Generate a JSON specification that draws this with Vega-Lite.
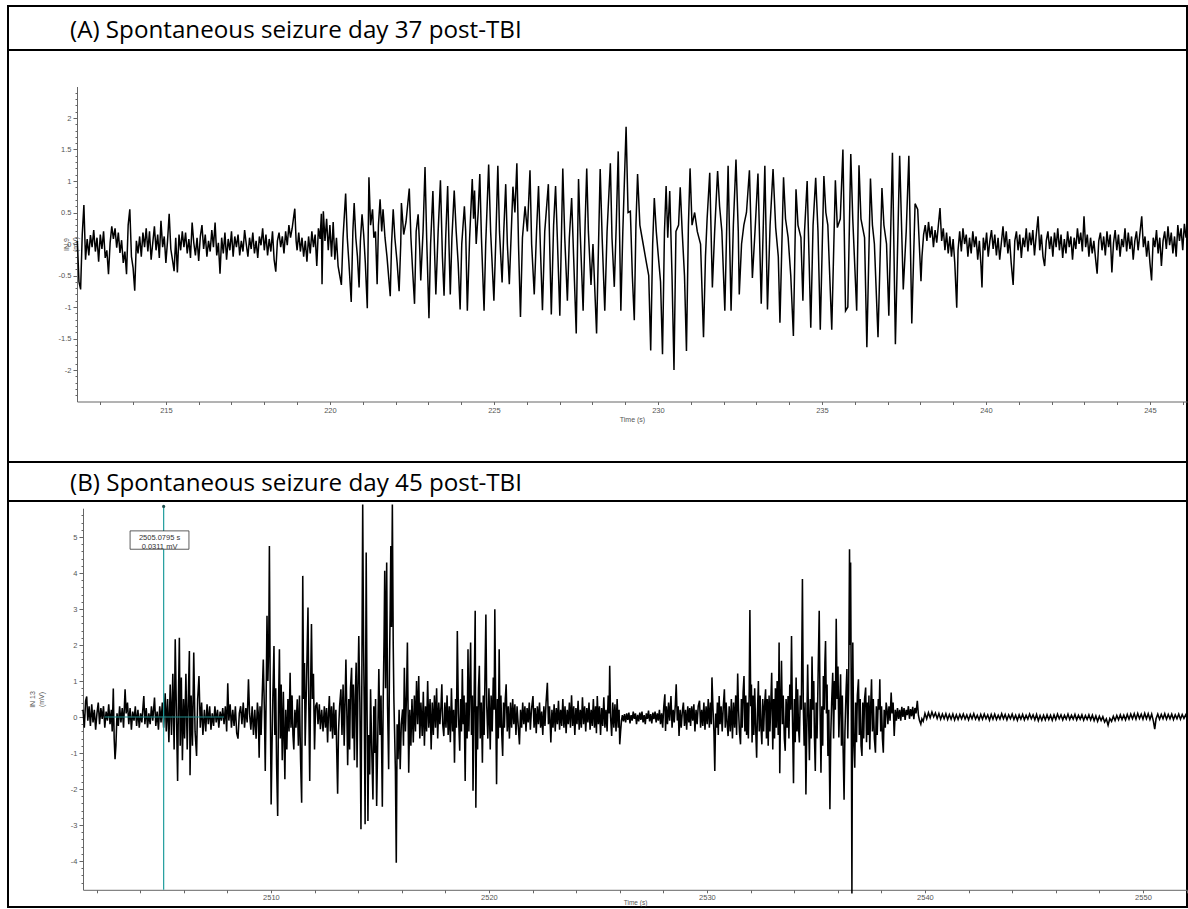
{
"$schema": "https://vega.github.io/schema/vega-lite/v6.json",
"background": "white",
"padding": {"left": 7, "top": 5, "right": 0, "bottom": 0},
"spacing": 0,
"bounds": "flush",
"config": {
 "view": {"stroke": "#000", "strokeWidth": 2},
 "axis": {"labelFont": "Liberation Sans", "titleFont": "Liberation Sans", "labelFontSize": 7.5, "titleFontSize": 7, "labelColor": "#555", "titleColor": "#555", "domainColor": "#666", "tickColor": "#666", "grid": false, "titleFontWeight": "normal", "labelOverlap": false, "labelFlush": false}
},
"datasets": {
"a": [
{"t":212.30,"v":0.05},{"t":212.35,"v":-0.60},{"t":212.40,"v":-0.72},{"t":212.45,"v":0.15},{"t":212.50,"v":0.62},{"t":212.55,"v":-0.25},{"t":212.60,"v":0.08},{"t":212.65,"v":-0.18},{"t":212.70,"v":0.14},{"t":212.75,"v":-0.05},{"t":212.80,"v":0.22},{"t":212.85,"v":-0.12},{"t":212.90,"v":0.10},{"t":212.95,"v":-0.28},{"t":213.00,"v":0.15},{"t":213.05,"v":-0.08},{"t":213.10,"v":0.20},{"t":213.15,"v":-0.22},{"t":213.20,"v":-0.10},{"t":213.25,"v":-0.48},{"t":213.30,"v":0.02},{"t":213.35,"v":0.28},{"t":213.40,"v":0.08},{"t":213.45,"v":0.25},{"t":213.50,"v":-0.06},{"t":213.55,"v":0.18},{"t":213.60,"v":-0.14},{"t":213.65,"v":0.06},{"t":213.70,"v":-0.30},{"t":213.75,"v":-0.12},{"t":213.80,"v":-0.48},{"t":213.85,"v":0.30},{"t":213.90,"v":0.55},{"t":213.95,"v":-0.20},{"t":214.00,"v":-0.38},{"t":214.05,"v":-0.74},{"t":214.10,"v":0.05},{"t":214.15,"v":-0.15},{"t":214.20,"v":0.12},{"t":214.25,"v":-0.20},{"t":214.30,"v":0.18},{"t":214.35,"v":-0.05},{"t":214.40,"v":0.25},{"t":214.45,"v":-0.12},{"t":214.50,"v":0.20},{"t":214.55,"v":-0.25},{"t":214.60,"v":0.02},{"t":214.65,"v":0.28},{"t":214.70,"v":-0.10},{"t":214.75,"v":0.15},{"t":214.80,"v":-0.22},{"t":214.85,"v":0.37},{"t":214.90,"v":-0.05},{"t":214.95,"v":0.12},{"t":215.00,"v":-0.30},{"t":215.05,"v":0.05},{"t":215.10,"v":0.48},{"t":215.15,"v":-0.08},{"t":215.20,"v":-0.25},{"t":215.25,"v":-0.43},{"t":215.30,"v":0.10},{"t":215.35,"v":-0.45},{"t":215.40,"v":0.15},{"t":215.45,"v":-0.10},{"t":215.50,"v":0.20},{"t":215.55,"v":-0.05},{"t":215.60,"v":0.18},{"t":215.65,"v":-0.15},{"t":215.70,"v":0.08},{"t":215.75,"v":-0.22},{"t":215.80,"v":0.34},{"t":215.85,"v":0.02},{"t":215.90,"v":-0.18},{"t":215.95,"v":0.10},{"t":216.00,"v":-0.27},{"t":216.05,"v":0.12},{"t":216.10,"v":0.30},{"t":216.15,"v":-0.08},{"t":216.20,"v":0.15},{"t":216.25,"v":-0.20},{"t":216.30,"v":0.05},{"t":216.35,"v":-0.12},{"t":216.40,"v":0.22},{"t":216.45,"v":-0.05},{"t":216.50,"v":0.34},{"t":216.55,"v":-0.18},{"t":216.60,"v":0.02},{"t":216.65,"v":-0.47},{"t":216.70,"v":0.10},{"t":216.75,"v":-0.15},{"t":216.80,"v":0.18},{"t":216.85,"v":-0.25},{"t":216.90,"v":0.08},{"t":216.95,"v":-0.10},{"t":217.00,"v":0.20},{"t":217.05,"v":-0.20},{"t":217.10,"v":0.12},{"t":217.15,"v":-0.05},{"t":217.20,"v":0.15},{"t":217.25,"v":-0.18},{"t":217.30,"v":0.05},{"t":217.35,"v":-0.12},{"t":217.40,"v":0.22},{"t":217.45,"v":0.00},{"t":217.50,"v":-0.20},{"t":217.55,"v":0.10},{"t":217.60,"v":-0.08},{"t":217.65,"v":0.18},{"t":217.70,"v":-0.15},{"t":217.75,"v":0.05},{"t":217.80,"v":-0.22},{"t":217.85,"v":0.12},{"t":217.90,"v":-0.02},{"t":217.95,"v":0.25},{"t":218.00,"v":-0.10},{"t":218.05,"v":0.15},{"t":218.10,"v":-0.18},{"t":218.15,"v":0.08},{"t":218.20,"v":-0.12},{"t":218.25,"v":0.20},{"t":218.30,"v":-0.25},{"t":218.35,"v":-0.44},{"t":218.40,"v":0.05},{"t":218.45,"v":0.18},{"t":218.50,"v":-0.05},{"t":218.55,"v":0.12},{"t":218.60,"v":-0.15},{"t":218.65,"v":0.20},{"t":218.70,"v":-0.02},{"t":218.75,"v":0.30},{"t":218.80,"v":0.10},{"t":218.85,"v":0.25},{"t":218.90,"v":0.45},{"t":218.93,"v":0.56},{"t":218.97,"v":0.05},{"t":219.00,"v":-0.10},{"t":219.05,"v":0.18},{"t":219.10,"v":-0.12},{"t":219.15,"v":0.10},{"t":219.20,"v":-0.20},{"t":219.25,"v":0.05},{"t":219.30,"v":-0.28},{"t":219.35,"v":0.12},{"t":219.40,"v":-0.15},{"t":219.45,"v":0.20},{"t":219.50,"v":-0.05},{"t":219.55,"v":0.15},{"t":219.60,"v":-0.35},{"t":219.65,"v":0.25},{"t":219.70,"v":0.08},{"t":219.74,"v":0.48},{"t":219.76,"v":-0.64},{"t":219.80,"v":0.52},{"t":219.85,"v":0.05},{"t":219.90,"v":0.40},{"t":219.95,"v":-0.10},{"t":220.00,"v":0.30},{"t":220.05,"v":-0.20},{"t":220.10,"v":0.35},{"t":220.15,"v":-0.25},{"t":220.20,"v":0.10},{"t":220.25,"v":-0.35},{"t":220.30,"v":-0.50},{"t":220.35,"v":-0.65},{"t":220.40,"v":0.10},
{"t":220.48,"v":0.80},{"t":220.53,"v":0.10},{"t":220.58,"v":-0.30},{"t":220.65,"v":-0.92},{"t":220.70,"v":0.20},{"t":220.74,"v":0.65},{"t":220.79,"v":0.10},{"t":220.84,"v":-0.20},{"t":220.89,"v":-0.69},{"t":220.93,"v":0.05},{"t":220.98,"v":0.47},{"t":221.03,"v":0.15},{"t":221.08,"v":-0.30},{"t":221.14,"v":-1.02},{"t":221.19,"v":1.06},{"t":221.24,"v":0.30},{"t":221.30,"v":0.55},{"t":221.34,"v":0.10},{"t":221.39,"v":0.20},{"t":221.44,"v":-0.64},{"t":221.48,"v":0.30},{"t":221.53,"v":0.71},{"t":221.58,"v":0.20},{"t":221.62,"v":0.55},{"t":221.68,"v":0.10},{"t":221.74,"v":-0.20},{"t":221.84,"v":-0.83},{"t":221.88,"v":0.00},{"t":221.93,"v":0.55},{"t":221.98,"v":0.10},{"t":222.05,"v":-0.30},{"t":222.11,"v":-0.75},{"t":222.16,"v":0.00},{"t":222.18,"v":0.65},{"t":222.25,"v":0.15},{"t":222.32,"v":0.35},{"t":222.42,"v":0.88},{"t":222.47,"v":0.10},{"t":222.52,"v":-0.40},{"t":222.58,"v":-0.95},{"t":222.63,"v":0.20},{"t":222.69,"v":0.47},{"t":222.74,"v":-0.10},{"t":222.77,"v":-0.58},{"t":222.84,"v":0.20},{"t":222.90,"v":1.22},{"t":222.95,"v":0.10},{"t":223.02,"v":-1.18},{"t":223.07,"v":0.00},{"t":223.14,"v":0.84},{"t":223.19,"v":-0.10},{"t":223.23,"v":-0.80},{"t":223.30,"v":0.20},{"t":223.37,"v":1.01},{"t":223.43,"v":-0.20},{"t":223.48,"v":-0.82},{"t":223.53,"v":0.10},{"t":223.59,"v":0.92},{"t":223.63,"v":0.00},{"t":223.67,"v":-0.80},{"t":223.72,"v":0.10},{"t":223.79,"v":0.85},{"t":223.85,"v":0.20},{"t":223.91,"v":-0.30},{"t":223.97,"v":-1.04},{"t":224.02,"v":0.00},{"t":224.10,"v":0.60},{"t":224.14,"v":0.20},{"t":224.19,"v":-1.06},{"t":224.26,"v":0.10},{"t":224.34,"v":1.03},{"t":224.38,"v":0.40},{"t":224.41,"v":0.85},{"t":224.46,"v":0.00},{"t":224.52,"v":0.50},{"t":224.57,"v":1.11},{"t":224.62,"v":0.10},{"t":224.70,"v":-1.06},{"t":224.75,"v":0.00},{"t":224.84,"v":1.26},{"t":224.90,"v":0.20},{"t":225.00,"v":-0.90},{"t":225.06,"v":0.10},{"t":225.12,"v":1.24},{"t":225.17,"v":0.20},{"t":225.25,"v":-0.61},{"t":225.30,"v":0.20},{"t":225.36,"v":0.95},{"t":225.41,"v":0.00},{"t":225.47,"v":-0.64},{"t":225.53,"v":0.20},{"t":225.58,"v":0.91},{"t":225.64,"v":0.50},{"t":225.70,"v":1.28},{"t":225.75,"v":0.00},{"t":225.81,"v":-1.16},{"t":225.87,"v":0.10},{"t":225.95,"v":0.60},{"t":226.02,"v":0.20},{"t":226.10,"v":1.17},{"t":226.15,"v":0.00},{"t":226.23,"v":-0.80},{"t":226.30,"v":0.20},{"t":226.36,"v":0.92},{"t":226.42,"v":-0.10},{"t":226.48,"v":-1.05},{"t":226.55,"v":0.20},{"t":226.66,"v":0.95},{"t":226.70,"v":0.00},{"t":226.75,"v":-1.12},{"t":226.82,"v":0.30},{"t":226.88,"v":0.92},{"t":226.94,"v":0.00},{"t":227.01,"v":-1.14},{"t":227.10,"v":1.20},{"t":227.16,"v":0.10},{"t":227.24,"v":-0.90},{"t":227.30,"v":0.10},{"t":227.37,"v":0.73},{"t":227.43,"v":-0.20},{"t":227.51,"v":-1.42},{"t":227.58,"v":1.03},{"t":227.63,"v":0.20},{"t":227.72,"v":-1.06},{"t":227.78,"v":0.30},{"t":227.83,"v":1.20},{"t":227.88,"v":0.20},{"t":227.96,"v":-0.65},{"t":228.02,"v":0.00},{"t":228.13,"v":-1.42},{"t":228.24,"v":1.19},{"t":228.30,"v":0.10},{"t":228.38,"v":-1.06},{"t":228.45,"v":0.20},{"t":228.55,"v":1.28},{"t":228.60,"v":0.10},{"t":228.67,"v":-0.68},{"t":228.73,"v":0.30},{"t":228.79,"v":1.47},{"t":228.87,"v":-1.06},{"t":228.93,"v":0.20},{"t":229.03,"v":1.86},{"t":229.09,"v":0.50},{"t":229.16,"v":0.52},{"t":229.22,"v":-0.50},{"t":229.28,"v":-1.21},{"t":229.33,"v":0.30},{"t":229.38,"v":1.11},{"t":229.45,"v":0.30},{"t":229.55,"v":0.00},{"t":229.65,"v":-0.30},{"t":229.72,"v":-0.50},{"t":229.78,"v":-1.69},{"t":229.84,"v":0.00},{"t":229.89,"v":0.73},{"t":229.95,"v":0.20},{"t":230.03,"v":-0.30},{"t":230.08,"v":-0.60},{"t":230.14,"v":-1.75},{"t":230.20,"v":0.20},{"t":230.25,"v":0.92},{"t":230.30,"v":0.10},{"t":230.36,"v":0.84},{"t":230.43,"v":-0.50},{"t":230.49,"v":-2.00},{"t":230.55,"v":0.20},{"t":230.63,"v":0.30},{"t":230.68,"v":0.90},{"t":230.74,"v":0.20},{"t":230.81,"v":-0.50},{"t":230.87,"v":-1.70},{"t":230.93,"v":0.30},{"t":230.98,"v":1.20},{"t":231.04,"v":0.30},{"t":231.12,"v":0.50},{"t":231.20,"v":0.20},{"t":231.30,"v":0.00},{"t":231.39,"v":-1.48},{"t":231.45,"v":-0.20},{"t":231.50,"v":0.40},{"t":231.58,"v":1.13},{"t":231.66,"v":-0.69},{"t":231.73,"v":0.20},{"t":231.82,"v":1.16},{"t":231.88,"v":0.60},{"t":231.95,"v":0.20},{"t":232.04,"v":-1.06},{"t":232.14,"v":1.24},{"t":232.23,"v":-1.06},{"t":232.30,"v":0.30},{"t":232.38,"v":1.34},{"t":232.45,"v":0.20},{"t":232.48,"v":-0.80},{"t":232.55,"v":0.00},{"t":232.62,"v":0.30},{"t":232.70,"v":0.50},{"t":232.79,"v":1.17},{"t":232.88,"v":-0.54},{"t":232.96,"v":0.20},{"t":233.05,"v":1.12},{"t":233.15,"v":-0.95},{"t":233.26,"v":1.24},{"t":233.34,"v":-1.04},{"t":233.42,"v":0.30},{"t":233.51,"v":1.19},{"t":233.59,"v":0.26},{"t":233.67,"v":-0.20},{"t":233.72,"v":-1.25},{"t":233.83,"v":1.06},{"t":233.89,"v":0.40},{"t":233.97,"v":0.10},{"t":234.05,"v":-0.50},{"t":234.13,"v":-1.46},{"t":234.21,"v":0.87},{"t":234.27,"v":0.30},{"t":234.36,"v":0.10},{"t":234.42,"v":-0.90},{"t":234.47,"v":0.20},{"t":234.55,"v":1.00},{"t":234.66,"v":-1.33},{"t":234.73,"v":0.30},{"t":234.81,"v":1.05},{"t":234.88,"v":0.20},{"t":234.95,"v":-1.36},{"t":235.06,"v":1.08},{"t":235.12,"v":0.50},{"t":235.18,"v":0.30},{"t":235.30,"v":-1.36},{"t":235.41,"v":1.01},{"t":235.47,"v":0.26},{"t":235.56,"v":0.40},{"t":235.64,"v":1.50},{"t":235.72,"v":-1.06},{"t":235.79,"v":-1.00},{"t":235.88,"v":1.43},{"t":235.94,"v":0.40},{"t":236.06,"v":-1.06},{"t":236.13,"v":1.25},{"t":236.19,"v":0.40},{"t":236.30,"v":0.10},{"t":236.37,"v":-1.64},{"t":236.48,"v":1.04},{"t":236.54,"v":0.30},{"t":236.60,"v":0.00},{"t":236.71,"v":-1.48},{"t":236.83,"v":0.89},{"t":236.89,"v":0.30},{"t":236.97,"v":0.00},{"t":237.04,"v":-1.14},{"t":237.15,"v":1.45},{"t":237.24,"v":-1.59},{"t":237.37,"v":1.40},{"t":237.48,"v":-0.72},{"t":237.57,"v":0.20},{"t":237.65,"v":1.40},{"t":237.74,"v":-1.26},{"t":237.84,"v":0.64},{"t":237.92,"v":0.55},{"t":238.02,"v":-0.59},
{"t":238.05,"v":-0.20},{"t":238.10,"v":0.15},{"t":238.15,"v":0.30},{"t":238.20,"v":0.05},{"t":238.25,"v":0.35},{"t":238.30,"v":0.10},{"t":238.35,"v":0.28},{"t":238.40,"v":-0.05},{"t":238.45,"v":0.22},{"t":238.50,"v":0.02},{"t":238.55,"v":0.30},{"t":238.60,"v":0.57},{"t":238.65,"v":0.05},{"t":238.70,"v":0.25},{"t":238.75,"v":-0.10},{"t":238.80,"v":0.18},{"t":238.85,"v":-0.15},{"t":238.90,"v":0.12},{"t":238.95,"v":-0.20},{"t":239.00,"v":0.08},{"t":239.05,"v":-0.30},{"t":239.11,"v":-1.01},{"t":239.15,"v":-0.10},{"t":239.20,"v":0.20},{"t":239.25,"v":-0.12},{"t":239.30,"v":0.25},{"t":239.35,"v":0.00},{"t":239.40,"v":0.15},{"t":239.45,"v":-0.20},{"t":239.50,"v":0.10},{"t":239.55,"v":-0.15},{"t":239.60,"v":0.20},{"t":239.65,"v":-0.05},{"t":239.70,"v":0.12},{"t":239.75,"v":-0.25},{"t":239.80,"v":0.05},{"t":239.85,"v":-0.35},{"t":239.88,"v":-0.69},{"t":239.92,"v":0.10},{"t":239.97,"v":-0.10},{"t":240.02,"v":0.18},{"t":240.07,"v":-0.20},{"t":240.12,"v":0.05},{"t":240.17,"v":0.22},{"t":240.22,"v":-0.08},{"t":240.27,"v":0.15},{"t":240.32,"v":-0.18},{"t":240.37,"v":0.10},{"t":240.42,"v":-0.25},{"t":240.47,"v":0.02},{"t":240.52,"v":0.28},{"t":240.57,"v":-0.05},{"t":240.62,"v":0.20},{"t":240.67,"v":-0.15},{"t":240.72,"v":0.08},{"t":240.77,"v":-0.30},{"t":240.83,"v":-0.65},{"t":240.88,"v":0.05},{"t":240.93,"v":0.20},{"t":240.98,"v":-0.10},{"t":241.03,"v":0.15},{"t":241.08,"v":-0.22},{"t":241.13,"v":0.10},{"t":241.18,"v":-0.05},{"t":241.23,"v":0.25},{"t":241.28,"v":-0.12},{"t":241.33,"v":0.18},{"t":241.38,"v":-0.02},{"t":241.43,"v":0.22},{"t":241.48,"v":-0.18},{"t":241.53,"v":0.12},{"t":241.59,"v":0.44},{"t":241.64,"v":-0.10},{"t":241.69,"v":0.15},{"t":241.74,"v":-0.20},{"t":241.79,"v":-0.35},{"t":241.84,"v":0.05},{"t":241.89,"v":0.20},{"t":241.94,"v":-0.08},{"t":241.99,"v":0.12},{"t":242.04,"v":-0.20},{"t":242.09,"v":0.18},{"t":242.14,"v":-0.05},{"t":242.19,"v":0.25},{"t":242.24,"v":-0.10},{"t":242.29,"v":0.15},{"t":242.34,"v":-0.22},{"t":242.39,"v":0.08},{"t":242.44,"v":-0.15},{"t":242.49,"v":0.20},{"t":242.54,"v":-0.05},{"t":242.59,"v":0.12},{"t":242.64,"v":-0.25},{"t":242.69,"v":0.10},{"t":242.74,"v":-0.08},{"t":242.79,"v":0.25},{"t":242.84,"v":0.00},{"t":242.89,"v":0.18},{"t":242.94,"v":-0.12},{"t":242.99,"v":0.44},{"t":243.04,"v":-0.05},{"t":243.09,"v":0.15},{"t":243.14,"v":-0.20},{"t":243.19,"v":0.10},{"t":243.24,"v":-0.15},{"t":243.29,"v":0.05},{"t":243.34,"v":-0.22},{"t":243.39,"v":-0.47},{"t":243.44,"v":0.05},{"t":243.49,"v":0.18},{"t":243.54,"v":-0.10},{"t":243.59,"v":0.12},{"t":243.64,"v":-0.18},{"t":243.69,"v":0.20},{"t":243.74,"v":-0.05},{"t":243.79,"v":0.15},{"t":243.84,"v":-0.45},{"t":243.89,"v":0.02},{"t":243.94,"v":0.22},{"t":243.99,"v":-0.10},{"t":244.04,"v":0.15},{"t":244.09,"v":-0.20},{"t":244.14,"v":0.08},{"t":244.19,"v":-0.05},{"t":244.24,"v":0.25},{"t":244.29,"v":-0.12},{"t":244.34,"v":0.18},{"t":244.39,"v":-0.08},{"t":244.44,"v":0.12},{"t":244.49,"v":-0.25},{"t":244.54,"v":0.05},{"t":244.59,"v":0.20},{"t":244.64,"v":-0.10},{"t":244.69,"v":0.15},{"t":244.75,"v":0.44},{"t":244.80,"v":-0.05},{"t":244.85,"v":0.12},{"t":244.90,"v":-0.20},{"t":244.95,"v":0.05},{"t":245.00,"v":-0.30},{"t":245.05,"v":-0.58},{"t":245.10,"v":0.10},{"t":245.15,"v":-0.05},{"t":245.20,"v":0.22},{"t":245.25,"v":-0.15},{"t":245.30,"v":0.10},{"t":245.35,"v":-0.35},{"t":245.40,"v":0.05},{"t":245.45,"v":0.20},{"t":245.50,"v":-0.08},{"t":245.55,"v":0.28},{"t":245.60,"v":-0.02},{"t":245.65,"v":0.18},{"t":245.70,"v":-0.15},{"t":245.75,"v":0.12},{"t":245.80,"v":-0.20},{"t":245.85,"v":0.30},{"t":245.90,"v":0.05},{"t":245.95,"v":0.25},{"t":246.00,"v":-0.10},{"t":246.05,"v":0.32},{"t":246.10,"v":0.10},{"t":246.13,"v":0.20}
],
"b": [
{"t":2501.38,"v":0.20},{"t":2501.44,"v":-0.30},{"t":2501.50,"v":0.45},{"t":2501.55,"v":0.57},{"t":2501.60,"v":-0.10},{"t":2501.66,"v":0.30},{"t":2501.72,"v":-0.25},{"t":2501.78,"v":0.35},{"t":2501.84,"v":-0.15},{"t":2501.90,"v":0.20},{"t":2501.96,"v":-0.35},{"t":2502.02,"v":0.10},{"t":2502.08,"v":0.40},{"t":2502.14,"v":-0.20},{"t":2502.20,"v":0.25},{"t":2502.26,"v":-0.05},{"t":2502.32,"v":0.30},{"t":2502.38,"v":-0.30},{"t":2502.44,"v":0.15},{"t":2502.50,"v":-0.10},{"t":2502.56,"v":0.35},{"t":2502.62,"v":-0.20},{"t":2502.68,"v":0.20},{"t":2502.72,"v":-0.40},{"t":2502.77,"v":0.79},{"t":2502.81,"v":-0.60},{"t":2502.85,"v":-1.17},{"t":2502.89,"v":-0.80},{"t":2502.94,"v":0.10},{"t":2503.00,"v":-0.25},{"t":2503.06,"v":0.30},{"t":2503.12,"v":-0.15},{"t":2503.18,"v":0.25},{"t":2503.24,"v":-0.30},{"t":2503.31,"v":0.77},{"t":2503.36,"v":0.10},{"t":2503.42,"v":0.40},{"t":2503.48,"v":-0.20},{"t":2503.54,"v":0.25},{"t":2503.60,"v":-0.35},{"t":2503.66,"v":0.15},{"t":2503.72,"v":-0.10},{"t":2503.78,"v":0.30},{"t":2503.84,"v":-0.25},{"t":2503.90,"v":0.20},{"t":2503.96,"v":-0.30},{"t":2504.02,"v":0.10},{"t":2504.08,"v":-0.15},{"t":2504.14,"v":0.35},{"t":2504.17,"v":0.58},{"t":2504.22,"v":-0.20},{"t":2504.28,"v":0.25},{"t":2504.34,"v":-0.30},{"t":2504.40,"v":0.10},{"t":2504.46,"v":-0.20},{"t":2504.52,"v":0.30},{"t":2504.58,"v":-0.10},{"t":2504.66,"v":0.54},{"t":2504.72,"v":-0.25},{"t":2504.78,"v":0.15},{"t":2504.84,"v":-0.35},{"t":2504.90,"v":0.30},{"t":2504.96,"v":-0.15},{"t":2505.02,"v":0.40},{"t":2505.08,"v":-0.30},{"t":2505.15,"v":0.66},{"t":2505.20,"v":-0.40},{"t":2505.26,"v":0.50},{"t":2505.32,"v":-0.70},{"t":2505.38,"v":0.90},{"t":2505.44,"v":-0.50},{"t":2505.50,"v":1.20},{"t":2505.56,"v":-0.90},{"t":2505.61,"v":2.16},{"t":2505.66,"v":0.30},{"t":2505.72,"v":-1.78},{"t":2505.76,"v":0.60},{"t":2505.80,"v":2.20},{"t":2505.84,"v":-0.80},{"t":2505.89,"v":1.10},{"t":2505.94,"v":-1.20},{"t":2505.99,"v":0.50},{"t":2506.04,"v":-0.60},{"t":2506.10,"v":1.20},{"t":2506.16,"v":-0.90},{"t":2506.22,"v":0.80},{"t":2506.26,"v":1.83},{"t":2506.29,"v":-1.62},{"t":2506.34,"v":0.60},{"t":2506.40,"v":-0.80},{"t":2506.46,"v":1.79},{"t":2506.52,"v":-0.40},{"t":2506.59,"v":-1.08},{"t":2506.64,"v":0.50},{"t":2506.70,"v":1.14},{"t":2506.76,"v":-0.30},{"t":2506.82,"v":0.40},{"t":2506.88,"v":-0.50},{"t":2506.95,"v":0.20},{"t":2507.01,"v":-0.40},{"t":2507.07,"v":0.35},{"t":2507.13,"v":-0.20},{"t":2507.19,"v":0.30},{"t":2507.25,"v":-0.35},{"t":2507.31,"v":0.10},{"t":2507.37,"v":-0.25},{"t":2507.43,"v":0.30},{"t":2507.49,"v":-0.15},{"t":2507.55,"v":0.20},{"t":2507.61,"v":-0.30},{"t":2507.67,"v":0.15},{"t":2507.73,"v":-0.10},{"t":2507.79,"v":0.25},{"t":2507.85,"v":-0.20},{"t":2507.91,"v":0.30},{"t":2507.97,"v":-0.40},{"t":2508.02,"v":0.94},{"t":2508.07,"v":-0.10},{"t":2508.13,"v":0.35},{"t":2508.19,"v":-0.30},{"t":2508.25,"v":0.20},{"t":2508.31,"v":-0.25},{"t":2508.37,"v":0.30},{"t":2508.43,"v":-0.45},{"t":2508.49,"v":-0.60},{"t":2508.55,"v":0.10},{"t":2508.61,"v":0.30},{"t":2508.67,"v":-0.20},{"t":2508.73,"v":0.40},{"t":2508.79,"v":-0.30},{"t":2508.85,"v":0.25},{"t":2508.91,"v":-0.15},{"t":2508.97,"v":1.05},{"t":2509.02,"v":0.10},{"t":2509.08,"v":-0.35},{"t":2509.14,"v":0.30},{"t":2509.20,"v":-0.50},{"t":2509.26,"v":0.20},{"t":2509.32,"v":-0.60},{"t":2509.38,"v":0.40},
{"t":2509.42,"v":0.10},{"t":2509.46,"v":-1.13},{"t":2509.50,"v":0.30},{"t":2509.55,"v":-0.50},{"t":2509.60,"v":0.60},{"t":2509.65,"v":1.60},{"t":2509.70,"v":0.20},{"t":2509.74,"v":-1.50},{"t":2509.78,"v":0.50},{"t":2509.82,"v":2.81},{"t":2509.86,"v":1.00},{"t":2509.90,"v":2.00},{"t":2509.93,"v":4.75},{"t":2509.97,"v":0.50},{"t":2510.01,"v":-2.43},{"t":2510.05,"v":-0.80},{"t":2510.09,"v":0.60},{"t":2510.14,"v":1.97},{"t":2510.18,"v":-0.50},{"t":2510.22,"v":0.80},{"t":2510.26,"v":-1.30},{"t":2510.31,"v":-2.75},{"t":2510.35,"v":0.40},{"t":2510.39,"v":1.88},{"t":2510.43,"v":-0.60},{"t":2510.47,"v":0.90},{"t":2510.52,"v":-1.20},{"t":2510.57,"v":0.70},{"t":2510.64,"v":-1.73},{"t":2510.68,"v":0.20},{"t":2510.73,"v":-0.90},{"t":2510.78,"v":0.50},{"t":2510.83,"v":-0.40},{"t":2510.88,"v":1.23},{"t":2510.92,"v":-0.30},{"t":2510.97,"v":0.60},{"t":2511.01,"v":-0.50},{"t":2511.05,"v":-0.90},{"t":2511.10,"v":0.20},{"t":2511.15,"v":-0.30},{"t":2511.21,"v":0.49},{"t":2511.26,"v":-0.80},{"t":2511.31,"v":0.60},{"t":2511.36,"v":-1.20},{"t":2511.41,"v":-2.38},{"t":2511.46,"v":3.92},{"t":2511.50,"v":0.50},{"t":2511.54,"v":1.50},{"t":2511.57,"v":-0.80},{"t":2511.62,"v":0.60},{"t":2511.66,"v":1.80},{"t":2511.70,"v":3.04},{"t":2511.74,"v":0.20},{"t":2511.78,"v":-1.78},{"t":2511.82,"v":0.80},{"t":2511.86,"v":2.58},{"t":2511.90,"v":0.50},{"t":2511.95,"v":1.20},{"t":2512.00,"v":-0.90},{"t":2512.05,"v":0.30},{"t":2512.11,"v":0.40},{"t":2512.16,"v":-0.20},{"t":2512.22,"v":0.35},{"t":2512.27,"v":-0.34},{"t":2512.33,"v":0.20},{"t":2512.39,"v":-0.40},{"t":2512.45,"v":0.30},{"t":2512.50,"v":-0.30},{"t":2512.55,"v":0.25},{"t":2512.60,"v":-0.71},{"t":2512.64,"v":0.10},{"t":2512.68,"v":0.58},{"t":2512.73,"v":-0.40},{"t":2512.78,"v":0.30},{"t":2512.83,"v":-0.60},{"t":2512.88,"v":0.40},{"t":2512.93,"v":-0.50},{"t":2512.98,"v":0.20},{"t":2513.02,"v":-1.00},{"t":2513.06,"v":-2.13},{"t":2513.10,"v":-0.40},{"t":2513.15,"v":0.30},{"t":2513.21,"v":0.77},{"t":2513.26,"v":-0.50},{"t":2513.31,"v":0.90},{"t":2513.36,"v":-0.80},{"t":2513.40,"v":0.40},{"t":2513.44,"v":1.60},{"t":2513.48,"v":0.20},{"t":2513.52,"v":-1.34},{"t":2513.57,"v":0.50},{"t":2513.61,"v":-0.90},{"t":2513.65,"v":0.80},{"t":2513.70,"v":1.37},{"t":2513.74,"v":-0.60},{"t":2513.78,"v":0.90},{"t":2513.83,"v":-1.20},{"t":2513.87,"v":0.60},{"t":2513.91,"v":1.51},{"t":2513.95,"v":-1.40},{"t":2513.99,"v":0.80},{"t":2514.03,"v":2.25},{"t":2514.08,"v":0.40},{"t":2514.13,"v":-3.12},{"t":2514.17,"v":1.00},{"t":2514.21,"v":5.90},{"t":2514.25,"v":2.00},{"t":2514.28,"v":0.30},{"t":2514.32,"v":-2.98},{"t":2514.34,"v":0.50},{"t":2514.37,"v":4.57},{"t":2514.41,"v":0.20},{"t":2514.45,"v":-2.89},{"t":2514.49,"v":-0.50},{"t":2514.53,"v":-1.60},{"t":2514.57,"v":0.77},{"t":2514.62,"v":-0.80},{"t":2514.68,"v":-2.29},{"t":2514.72,"v":0.30},{"t":2514.76,"v":-1.00},{"t":2514.80,"v":0.50},{"t":2514.85,"v":-2.47},{"t":2514.90,"v":-0.60},{"t":2514.95,"v":1.33},{"t":2515.00,"v":-0.50},{"t":2515.05,"v":0.60},{"t":2515.11,"v":-2.49},{"t":2515.15,"v":0.50},{"t":2515.19,"v":2.20},{"t":2515.22,"v":4.06},{"t":2515.26,"v":0.80},{"t":2515.31,"v":4.29},{"t":2515.35,"v":0.30},{"t":2515.40,"v":-1.45},{"t":2515.44,"v":1.50},{"t":2515.47,"v":3.00},{"t":2515.50,"v":4.75},{"t":2515.53,"v":2.50},{"t":2515.57,"v":5.90},{"t":2515.61,"v":2.00},{"t":2515.64,"v":0.50},{"t":2515.67,"v":-0.34},{"t":2515.71,"v":-1.50},{"t":2515.75,"v":-4.05},{"t":2515.79,"v":-0.20},{"t":2515.83,"v":-1.17},{"t":2515.88,"v":0.20},{"t":2515.93,"v":-1.45},{"t":2515.98,"v":-0.20},{"t":2516.04,"v":0.21},{"t":2516.08,"v":-0.80},{"t":2516.12,"v":1.37},{"t":2516.17,"v":-0.40},{"t":2516.22,"v":0.60},{"t":2516.26,"v":2.07},{"t":2516.32,"v":-1.55},{"t":2516.37,"v":0.20},{"t":2516.42,"v":-0.80},{"t":2516.47,"v":0.50},{"t":2516.53,"v":-0.71},{"t":2516.58,"v":0.60},{"t":2516.63,"v":-0.40},{"t":2516.68,"v":1.00},{"t":2516.73,"v":-0.20},{"t":2516.78,"v":1.14},{"t":2516.83,"v":-0.60},{"t":2516.88,"v":0.40},{"t":2516.94,"v":-0.53},{"t":2516.99,"v":0.70},{"t":2517.04,"v":-0.80},{"t":2517.09,"v":0.30},{"t":2517.14,"v":-0.40},{"t":2517.19,"v":1.00},{"t":2517.24,"v":-0.30},{"t":2517.30,"v":0.50},{"t":2517.35,"v":-0.90},{"t":2517.40,"v":0.40},{"t":2517.45,"v":-0.50},{"t":2517.50,"v":0.60},{"t":2517.55,"v":-0.30},{"t":2517.60,"v":0.80},{"t":2517.65,"v":-0.60},{"t":2517.70,"v":0.40},{"t":2517.75,"v":-0.20},{"t":2517.80,"v":0.30},{"t":2517.84,"v":0.91},{"t":2517.88,"v":-0.20},{"t":2517.93,"v":-0.53},{"t":2517.98,"v":0.40},{"t":2518.03,"v":-0.30},{"t":2518.08,"v":0.60},{"t":2518.13,"v":-0.50},{"t":2518.18,"v":0.30},{"t":2518.23,"v":-0.70},{"t":2518.28,"v":0.80},{"t":2518.33,"v":-0.40},{"t":2518.38,"v":0.20},{"t":2518.42,"v":-1.27},{"t":2518.47,"v":0.50},{"t":2518.51,"v":-0.30},{"t":2518.55,"v":2.39},{"t":2518.60,"v":0.10},{"t":2518.66,"v":-0.94},{"t":2518.70,"v":0.50},{"t":2518.74,"v":-0.40},{"t":2518.78,"v":1.33},{"t":2518.82,"v":-0.20},{"t":2518.86,"v":0.60},{"t":2518.91,"v":-1.78},{"t":2518.95,"v":0.40},{"t":2519.00,"v":-0.60},{"t":2519.04,"v":1.88},{"t":2519.08,"v":-0.40},{"t":2519.12,"v":0.80},{"t":2519.16,"v":2.07},{"t":2519.20,"v":-0.50},{"t":2519.24,"v":0.60},{"t":2519.27,"v":-2.05},{"t":2519.32,"v":0.50},{"t":2519.37,"v":2.95},{"t":2519.40,"v":-2.52},{"t":2519.44,"v":0.30},{"t":2519.48,"v":-0.90},{"t":2519.52,"v":0.80},{"t":2519.56,"v":1.42},{"t":2519.60,"v":-0.60},{"t":2519.65,"v":0.40},{"t":2519.70,"v":-1.27},{"t":2519.74,"v":0.60},{"t":2519.78,"v":-0.50},{"t":2519.82,"v":1.20},{"t":2519.86,"v":2.85},{"t":2519.90,"v":0.30},{"t":2519.95,"v":-0.60},{"t":2520.00,"v":0.80},{"t":2520.06,"v":-0.90},{"t":2520.10,"v":0.60},{"t":2520.15,"v":-0.40},{"t":2520.20,"v":1.10},{"t":2520.24,"v":0.20},{"t":2520.27,"v":2.99},{"t":2520.31,"v":0.40},{"t":2520.35,"v":-1.87},{"t":2520.39,"v":0.50},{"t":2520.43,"v":-0.60},{"t":2520.47,"v":1.88},{"t":2520.51,"v":-0.30},{"t":2520.55,"v":0.60},{"t":2520.59,"v":-0.50},{"t":2520.63,"v":-1.08},{"t":2520.67,"v":0.40},{"t":2520.71,"v":-0.30},{"t":2520.75,"v":0.50},{"t":2520.79,"v":0.91},{"t":2520.84,"v":-0.40},{"t":2520.89,"v":0.30},{"t":2520.94,"v":-0.60},{"t":2520.99,"v":0.40},{"t":2521.04,"v":-0.30},{"t":2521.09,"v":0.50},{"t":2521.14,"v":-0.20},{"t":2521.19,"v":0.35},{"t":2521.24,"v":-0.50},{"t":2521.29,"v":0.30},{"t":2521.35,"v":-0.30},{"t":2521.40,"v":-0.76},{"t":2521.45,"v":0.20},{"t":2521.50,"v":-0.30},{"t":2521.55,"v":0.40},{"t":2521.60,"v":-0.20},{"t":2521.65,"v":0.30},{"t":2521.70,"v":-0.40},{"t":2521.75,"v":0.25},{"t":2521.80,"v":-0.15},{"t":2521.85,"v":0.40},{"t":2521.90,"v":-0.35},{"t":2521.95,"v":0.20},{"t":2522.02,"v":0.58},{"t":2522.07,"v":-0.30},{"t":2522.12,"v":0.25},{"t":2522.17,"v":-0.45},{"t":2522.22,"v":0.30},{"t":2522.27,"v":-0.20},{"t":2522.32,"v":0.40},{"t":2522.37,"v":-0.30},{"t":2522.42,"v":0.15},{"t":2522.47,"v":-0.50},{"t":2522.52,"v":0.30},{"t":2522.57,"v":-0.25},{"t":2522.62,"v":0.40},{"t":2522.68,"v":0.95},{"t":2522.73,"v":-0.20},{"t":2522.78,"v":0.30},{"t":2522.84,"v":-0.71},{"t":2522.89,"v":0.20},{"t":2522.94,"v":-0.30},{"t":2522.99,"v":0.35},{"t":2523.04,"v":-0.40},{"t":2523.09,"v":0.25},{"t":2523.14,"v":-0.20},{"t":2523.19,"v":0.45},{"t":2523.24,"v":-0.35},{"t":2523.29,"v":0.20},{"t":2523.34,"v":-0.25},{"t":2523.39,"v":0.50},{"t":2523.44,"v":-0.30},{"t":2523.49,"v":0.30},{"t":2523.54,"v":-0.45},{"t":2523.59,"v":0.20},{"t":2523.64,"v":-0.20},{"t":2523.69,"v":0.40},{"t":2523.74,"v":-0.30},{"t":2523.79,"v":0.60},{"t":2523.84,"v":-0.25},{"t":2523.89,"v":0.30},{"t":2523.94,"v":-0.50},{"t":2523.99,"v":0.25},{"t":2524.04,"v":-0.20},{"t":2524.09,"v":0.45},{"t":2524.14,"v":-0.35},{"t":2524.19,"v":0.20},{"t":2524.24,"v":-0.30},{"t":2524.29,"v":0.55},{"t":2524.34,"v":-0.20},{"t":2524.39,"v":0.30},{"t":2524.44,"v":-0.40},{"t":2524.49,"v":0.25},{"t":2524.54,"v":-0.15},{"t":2524.59,"v":0.40},{"t":2524.64,"v":-0.35},{"t":2524.69,"v":0.20},{"t":2524.74,"v":-0.25},{"t":2524.79,"v":0.50},{"t":2524.84,"v":-0.30},{"t":2524.89,"v":0.30},{"t":2524.93,"v":-0.45},{"t":2524.97,"v":0.58},{"t":2525.02,"v":-0.20},{"t":2525.07,"v":0.30},{"t":2525.12,"v":-0.50},{"t":2525.17,"v":0.25},{"t":2525.22,"v":-0.25},{"t":2525.27,"v":0.55},{"t":2525.32,"v":-0.30},{"t":2525.37,"v":0.20},{"t":2525.42,"v":-0.40},{"t":2525.47,"v":0.60},{"t":2525.51,"v":0.10},{"t":2525.54,"v":1.42},{"t":2525.58,"v":0.00},{"t":2525.63,"v":-0.53},{"t":2525.68,"v":0.40},{"t":2525.73,"v":-0.30},{"t":2525.78,"v":0.35},{"t":2525.83,"v":-0.40},{"t":2525.88,"v":0.50},{"t":2525.93,"v":-0.30},{"t":2525.97,"v":0.20},{"t":2526.00,"v":-0.76},{"t":2526.04,"v":-0.40},{"t":2526.08,"v":-0.10},
{"t":2526.12,"v":0.05},{"t":2526.17,"v":-0.12},{"t":2526.22,"v":0.08},{"t":2526.27,"v":-0.15},{"t":2526.32,"v":0.10},{"t":2526.37,"v":-0.08},{"t":2526.42,"v":0.12},{"t":2526.47,"v":-0.18},{"t":2526.52,"v":0.05},{"t":2526.57,"v":-0.10},{"t":2526.62,"v":0.15},{"t":2526.67,"v":-0.05},{"t":2526.72,"v":0.10},{"t":2526.77,"v":-0.20},{"t":2526.82,"v":0.06},{"t":2526.87,"v":-0.12},{"t":2526.92,"v":0.12},{"t":2526.97,"v":-0.08},{"t":2527.02,"v":0.15},{"t":2527.07,"v":-0.15},{"t":2527.12,"v":0.05},{"t":2527.17,"v":-0.20},{"t":2527.22,"v":0.10},{"t":2527.27,"v":-0.05},{"t":2527.32,"v":0.18},{"t":2527.37,"v":-0.12},{"t":2527.42,"v":0.08},{"t":2527.47,"v":-0.18},{"t":2527.52,"v":0.12},{"t":2527.57,"v":-0.06},{"t":2527.62,"v":0.15},{"t":2527.67,"v":-0.15},{"t":2527.72,"v":0.10},{"t":2527.77,"v":-0.10},{"t":2527.82,"v":0.20},{"t":2527.87,"v":-0.20},{"t":2527.92,"v":0.10},{"t":2527.97,"v":-0.30},{"t":2528.02,"v":0.30},{"t":2528.07,"v":0.63},{"t":2528.10,"v":-0.39},{"t":2528.14,"v":0.30},{"t":2528.19,"v":-0.20},{"t":2528.24,"v":0.40},{"t":2528.29,"v":-0.10},{"t":2528.35,"v":0.58},{"t":2528.40,"v":-0.30},{"t":2528.45,"v":0.20},{"t":2528.50,"v":-0.15},{"t":2528.55,"v":0.35},{"t":2528.59,"v":0.91},{"t":2528.64,"v":-0.10},{"t":2528.68,"v":0.30},{"t":2528.72,"v":-0.53},{"t":2528.77,"v":0.20},{"t":2528.82,"v":-0.30},{"t":2528.87,"v":0.15},{"t":2528.92,"v":0.40},{"t":2528.97,"v":-0.25},{"t":2529.02,"v":0.20},{"t":2529.07,"v":-0.35},{"t":2529.12,"v":0.30},{"t":2529.17,"v":-0.15},{"t":2529.21,"v":0.25},{"t":2529.25,"v":-0.25},{"t":2529.30,"v":0.30},{"t":2529.35,"v":-0.10},{"t":2529.40,"v":0.35},{"t":2529.45,"v":-0.40},{"t":2529.50,"v":0.20},{"t":2529.55,"v":-0.20},{"t":2529.60,"v":0.30},{"t":2529.66,"v":0.45},{"t":2529.71,"v":-0.30},{"t":2529.76,"v":0.20},{"t":2529.81,"v":-0.25},{"t":2529.86,"v":0.40},{"t":2529.91,"v":-0.35},{"t":2529.96,"v":0.30},{"t":2530.01,"v":-0.20},{"t":2530.06,"v":0.50},{"t":2530.11,"v":-0.30},{"t":2530.16,"v":0.40},{"t":2530.20,"v":-0.20},{"t":2530.23,"v":1.10},{"t":2530.28,"v":0.20},{"t":2530.32,"v":-0.40},{"t":2530.36,"v":-1.50},{"t":2530.40,"v":0.10},{"t":2530.44,"v":-0.30},{"t":2530.48,"v":0.40},{"t":2530.52,"v":-0.50},{"t":2530.56,"v":0.58},{"t":2530.60,"v":-0.20},{"t":2530.65,"v":0.30},{"t":2530.70,"v":-0.40},{"t":2530.75,"v":0.30},{"t":2530.80,"v":0.77},{"t":2530.84,"v":-0.30},{"t":2530.88,"v":0.40},{"t":2530.93,"v":-0.20},{"t":2530.97,"v":-0.53},{"t":2531.02,"v":0.30},{"t":2531.07,"v":-0.40},{"t":2531.12,"v":0.50},{"t":2531.17,"v":-0.60},{"t":2531.22,"v":0.40},{"t":2531.27,"v":-0.30},{"t":2531.32,"v":0.60},{"t":2531.36,"v":-0.50},{"t":2531.41,"v":1.21},{"t":2531.45,"v":0.20},{"t":2531.49,"v":-0.40},{"t":2531.54,"v":-0.76},{"t":2531.58,"v":0.50},{"t":2531.62,"v":-0.30},{"t":2531.66,"v":0.70},{"t":2531.70,"v":1.14},{"t":2531.74,"v":-0.40},{"t":2531.78,"v":0.60},{"t":2531.82,"v":-0.50},{"t":2531.86,"v":0.40},{"t":2531.90,"v":-0.60},{"t":2531.94,"v":0.80},{"t":2531.97,"v":2.97},{"t":2532.01,"v":0.30},{"t":2532.04,"v":0.90},{"t":2532.07,"v":-0.71},{"t":2532.11,"v":0.60},{"t":2532.15,"v":-0.50},{"t":2532.19,"v":0.80},{"t":2532.24,"v":-0.40},{"t":2532.28,"v":-1.13},{"t":2532.32,"v":0.20},{"t":2532.36,"v":1.00},{"t":2532.40,"v":-0.40},{"t":2532.44,"v":0.60},{"t":2532.48,"v":-0.30},{"t":2532.52,"v":-0.76},{"t":2532.56,"v":0.50},{"t":2532.60,"v":-0.40},{"t":2532.64,"v":0.30},{"t":2532.69,"v":0.77},{"t":2532.73,"v":-0.60},{"t":2532.77,"v":0.50},{"t":2532.81,"v":-0.80},{"t":2532.85,"v":0.60},{"t":2532.89,"v":-0.40},{"t":2532.93,"v":0.40},{"t":2532.97,"v":1.23},{"t":2533.02,"v":-0.90},{"t":2533.06,"v":0.50},{"t":2533.10,"v":-0.60},{"t":2533.14,"v":0.80},{"t":2533.18,"v":-0.30},{"t":2533.22,"v":1.00},{"t":2533.27,"v":-0.50},{"t":2533.31,"v":2.07},{"t":2533.34,"v":-1.56},{"t":2533.38,"v":0.40},{"t":2533.42,"v":1.56},{"t":2533.46,"v":-0.20},{"t":2533.50,"v":0.60},{"t":2533.55,"v":-0.60},{"t":2533.59,"v":-0.94},{"t":2533.63,"v":0.50},{"t":2533.68,"v":-0.30},{"t":2533.72,"v":0.58},{"t":2533.76,"v":-0.60},{"t":2533.80,"v":0.90},{"t":2533.84,"v":0.20},{"t":2533.88,"v":2.25},{"t":2533.92,"v":0.10},{"t":2533.97,"v":-1.84},{"t":2534.01,"v":0.50},{"t":2534.05,"v":-0.70},{"t":2534.09,"v":1.10},{"t":2534.13,"v":-0.40},{"t":2534.16,"v":0.77},{"t":2534.20,"v":-0.30},{"t":2534.24,"v":-0.71},{"t":2534.28,"v":0.60},{"t":2534.33,"v":0.20},{"t":2534.38,"v":3.83},{"t":2534.42,"v":0.30},{"t":2534.46,"v":-0.80},{"t":2534.50,"v":0.40},{"t":2534.54,"v":-2.15},{"t":2534.58,"v":-0.30},{"t":2534.62,"v":1.46},{"t":2534.66,"v":0.00},{"t":2534.70,"v":-1.20},{"t":2534.74,"v":0.50},{"t":2534.78,"v":-0.60},{"t":2534.82,"v":1.68},{"t":2534.86,"v":0.20},{"t":2534.90,"v":1.00},{"t":2534.93,"v":-0.53},{"t":2534.97,"v":-1.50},{"t":2535.01,"v":0.40},{"t":2535.05,"v":-0.60},{"t":2535.10,"v":1.20},{"t":2535.15,"v":2.95},{"t":2535.19,"v":0.20},{"t":2535.23,"v":-1.55},{"t":2535.27,"v":0.30},{"t":2535.31,"v":-0.80},{"t":2535.34,"v":1.14},{"t":2535.38,"v":0.20},{"t":2535.41,"v":1.50},{"t":2535.44,"v":2.11},{"t":2535.48,"v":0.10},{"t":2535.51,"v":0.90},{"t":2535.55,"v":-1.08},{"t":2535.59,"v":0.20},{"t":2535.64,"v":-2.56},{"t":2535.68,"v":-0.50},{"t":2535.72,"v":0.40},{"t":2535.77,"v":1.23},{"t":2535.81,"v":-0.60},{"t":2535.85,"v":1.00},{"t":2535.89,"v":0.20},{"t":2535.93,"v":2.73},{"t":2535.97,"v":0.50},{"t":2536.01,"v":1.40},{"t":2536.05,"v":-0.57},{"t":2536.09,"v":0.30},{"t":2536.13,"v":1.19},{"t":2536.17,"v":-0.80},{"t":2536.21,"v":0.60},{"t":2536.25,"v":-1.00},{"t":2536.29,"v":-2.30},{"t":2536.33,"v":-0.40},{"t":2536.38,"v":0.70},{"t":2536.42,"v":1.33},{"t":2536.46,"v":-0.60},{"t":2536.50,"v":0.80},{"t":2536.54,"v":4.66},{"t":2536.57,"v":2.00},{"t":2536.59,"v":4.29},{"t":2536.62,"v":0.50},{"t":2536.65,"v":-4.90},{"t":2536.67,"v":-1.00},{"t":2536.69,"v":2.07},{"t":2536.73,"v":-0.60},{"t":2536.78,"v":-1.41},{"t":2536.82,"v":0.40},{"t":2536.86,"v":-0.70},{"t":2536.90,"v":0.60},{"t":2536.95,"v":1.05},{"t":2536.99,"v":-0.50},{"t":2537.03,"v":0.50},{"t":2537.07,"v":-0.80},{"t":2537.11,"v":-1.08},{"t":2537.15,"v":0.40},{"t":2537.19,"v":-0.60},{"t":2537.23,"v":0.50},{"t":2537.28,"v":0.82},{"t":2537.32,"v":-0.70},{"t":2537.36,"v":0.40},{"t":2537.40,"v":-0.50},{"t":2537.43,"v":0.60},{"t":2537.47,"v":-0.90},{"t":2537.51,"v":0.30},{"t":2537.55,"v":1.05},{"t":2537.59,"v":-0.40},{"t":2537.63,"v":0.50},{"t":2537.68,"v":-0.60},{"t":2537.73,"v":-0.99},{"t":2537.77,"v":0.30},{"t":2537.81,"v":-0.50},{"t":2537.86,"v":0.50},{"t":2537.90,"v":0.20},{"t":2537.93,"v":1.05},{"t":2537.97,"v":-0.40},{"t":2538.01,"v":0.30},{"t":2538.05,"v":-0.60},{"t":2538.09,"v":-0.99},{"t":2538.13,"v":0.20},{"t":2538.18,"v":-0.30},{"t":2538.22,"v":0.40},{"t":2538.26,"v":0.21},{"t":2538.30,"v":-0.20},{"t":2538.35,"v":0.30},{"t":2538.40,"v":-0.10},{"t":2538.45,"v":0.68},{"t":2538.49,"v":0.10},{"t":2538.54,"v":0.40},{"t":2538.59,"v":-0.53},{"t":2538.64,"v":0.20},{"t":2538.69,"v":-0.10},{"t":2538.74,"v":0.25},{"t":2538.79,"v":-0.05},{"t":2538.84,"v":0.20},{"t":2538.89,"v":-0.10},{"t":2538.94,"v":0.28},{"t":2538.99,"v":0.00},{"t":2539.04,"v":0.25},{"t":2539.09,"v":-0.08},{"t":2539.14,"v":0.20},{"t":2539.19,"v":0.05},{"t":2539.24,"v":0.30},{"t":2539.29,"v":-0.05},{"t":2539.34,"v":0.22},{"t":2539.39,"v":0.02},{"t":2539.44,"v":0.28},{"t":2539.49,"v":-0.06},{"t":2539.54,"v":0.25},{"t":2539.59,"v":0.10},{"t":2539.65,"v":0.45},{"t":2539.70,"v":0.05},{"t":2539.75,"v":-0.10},{"t":2539.81,"v":-0.20},{"t":2539.86,"v":-0.05},
{"t":2539.92,"v":-0.12},{"t":2540.00,"v":0.10},{"t":2540.08,"v":-0.05},{"t":2540.16,"v":0.12},{"t":2540.24,"v":-0.02},{"t":2540.32,"v":0.14},{"t":2540.40,"v":0.00},{"t":2540.48,"v":0.11},{"t":2540.56,"v":-0.04},{"t":2540.64,"v":0.10},{"t":2540.72,"v":-0.06},{"t":2540.80,"v":0.08},{"t":2540.88,"v":-0.05},{"t":2540.96,"v":0.09},{"t":2541.04,"v":-0.07},{"t":2541.12,"v":0.07},{"t":2541.20,"v":-0.06},{"t":2541.28,"v":0.08},{"t":2541.36,"v":-0.08},{"t":2541.44,"v":0.06},{"t":2541.52,"v":-0.07},{"t":2541.60,"v":0.07},{"t":2541.68,"v":-0.05},{"t":2541.76,"v":0.08},{"t":2541.84,"v":-0.06},{"t":2541.92,"v":0.06},{"t":2542.00,"v":-0.08},{"t":2542.08,"v":0.07},{"t":2542.16,"v":-0.05},{"t":2542.24,"v":0.09},{"t":2542.32,"v":-0.06},{"t":2542.40,"v":0.05},{"t":2542.48,"v":-0.08},{"t":2542.56,"v":0.07},{"t":2542.64,"v":-0.06},{"t":2542.72,"v":0.08},{"t":2542.80,"v":-0.05},{"t":2542.88,"v":0.06},{"t":2542.96,"v":-0.09},{"t":2543.04,"v":0.07},{"t":2543.12,"v":-0.06},{"t":2543.20,"v":0.08},{"t":2543.28,"v":-0.07},{"t":2543.36,"v":0.05},{"t":2543.44,"v":-0.06},{"t":2543.52,"v":0.09},{"t":2543.60,"v":-0.05},{"t":2543.68,"v":0.07},{"t":2543.76,"v":-0.08},{"t":2543.84,"v":0.06},{"t":2543.92,"v":-0.05},{"t":2544.00,"v":0.08},{"t":2544.08,"v":-0.07},{"t":2544.16,"v":0.05},{"t":2544.24,"v":-0.09},{"t":2544.32,"v":0.06},{"t":2544.40,"v":-0.06},{"t":2544.48,"v":0.07},{"t":2544.56,"v":-0.08},{"t":2544.64,"v":0.05},{"t":2544.72,"v":-0.06},{"t":2544.80,"v":0.08},{"t":2544.88,"v":-0.05},{"t":2544.96,"v":0.06},{"t":2545.04,"v":-0.08},{"t":2545.12,"v":0.07},{"t":2545.20,"v":-0.10},{"t":2545.28,"v":0.04},{"t":2545.36,"v":-0.09},{"t":2545.44,"v":0.05},{"t":2545.52,"v":-0.08},{"t":2545.60,"v":0.06},{"t":2545.68,"v":-0.07},{"t":2545.76,"v":0.05},{"t":2545.84,"v":-0.09},{"t":2545.92,"v":0.06},{"t":2546.00,"v":-0.07},{"t":2546.08,"v":0.08},{"t":2546.16,"v":-0.05},{"t":2546.24,"v":0.06},{"t":2546.32,"v":-0.08},{"t":2546.40,"v":0.05},{"t":2546.48,"v":-0.06},{"t":2546.56,"v":0.08},{"t":2546.64,"v":-0.07},{"t":2546.72,"v":0.05},{"t":2546.80,"v":-0.06},{"t":2546.88,"v":0.07},{"t":2546.96,"v":-0.08},{"t":2547.04,"v":0.05},{"t":2547.12,"v":-0.06},{"t":2547.20,"v":0.06},{"t":2547.28,"v":-0.09},{"t":2547.36,"v":0.04},{"t":2547.44,"v":-0.07},{"t":2547.52,"v":0.06},{"t":2547.60,"v":-0.08},{"t":2547.68,"v":0.05},{"t":2547.76,"v":-0.10},{"t":2547.84,"v":0.03},{"t":2547.92,"v":-0.12},{"t":2548.00,"v":0.02},{"t":2548.08,"v":-0.10},{"t":2548.16,"v":0.01},{"t":2548.24,"v":-0.14},{"t":2548.32,"v":-0.05},{"t":2548.40,"v":-0.23},{"t":2548.48,"v":-0.04},{"t":2548.56,"v":-0.12},{"t":2548.64,"v":0.02},{"t":2548.72,"v":-0.10},{"t":2548.80,"v":0.04},{"t":2548.88,"v":-0.08},{"t":2548.96,"v":0.06},{"t":2549.04,"v":-0.07},{"t":2549.12,"v":0.05},{"t":2549.20,"v":-0.08},{"t":2549.28,"v":0.07},{"t":2549.36,"v":-0.06},{"t":2549.44,"v":0.08},{"t":2549.52,"v":-0.05},{"t":2549.60,"v":0.09},{"t":2549.68,"v":-0.06},{"t":2549.76,"v":0.10},{"t":2549.84,"v":-0.04},{"t":2549.92,"v":0.08},{"t":2550.00,"v":-0.06},{"t":2550.08,"v":0.10},{"t":2550.16,"v":-0.05},{"t":2550.24,"v":0.09},{"t":2550.32,"v":-0.07},{"t":2550.40,"v":0.08},{"t":2550.48,"v":-0.12},{"t":2550.54,"v":-0.34},{"t":2550.60,"v":-0.05},{"t":2550.68,"v":0.08},{"t":2550.76,"v":-0.06},{"t":2550.84,"v":0.07},{"t":2550.92,"v":-0.05},{"t":2551.00,"v":0.09},{"t":2551.08,"v":-0.06},{"t":2551.16,"v":0.07},{"t":2551.24,"v":-0.05},{"t":2551.32,"v":0.08},{"t":2551.40,"v":-0.07},{"t":2551.48,"v":0.06},{"t":2551.56,"v":-0.05},{"t":2551.64,"v":0.08},{"t":2551.72,"v":-0.06},{"t":2551.80,"v":0.07},{"t":2551.88,"v":-0.04},{"t":2551.96,"v":0.06},{"t":2552.02,"v":-0.03}
]
},
"vconcat": [
 {
  "width": 1179, "height": 44,
  "data": {"values": [{"label": "(A) Spontaneous seizure day 37 post-TBI"}]},
  "layer": [
   {"mark": {"type": "rect", "fill": null, "fillOpacity": 0, "stroke": "#000", "strokeWidth": 2}},
   {"mark": {"type": "text", "x": 62, "y": 32, "align": "left", "baseline": "alphabetic", "font": "Open Sans", "fontSize": 24.2, "color": "#000"},
    "encoding": {"text": {"field": "label"}}}
  ]
 },
 {
  "width": 1179, "height": 412,
  "data": {"name": "a"},
  "mark": {"type": "line", "clip": true, "color": "#000", "strokeWidth": 1.5},
  "encoding": {
   "x": {"field": "t", "type": "quantitative",
    "scale": {"domain": [212.29, 246.13], "range": [69, 1179], "nice": false, "zero": false},
    "axis": {"title": "Time (s)", "offset": -60.5, "values": [213,214,215,216,217,218,219,220,221,222,223,224,225,226,227,228,229,230,231,232,233,234,235,236,237,238,239,240,241,242,243,244,245,246],
     "format": "d", "labelOverlap": false,
     "labelExpr": "datum.value % 5 === 0 ? datum.label : ''", "tickSize": 3, "labelPadding": 2, "titlePadding": 1}},
   "y": {"field": "v", "type": "quantitative",
    "scale": {"domain": [-2.5, 2.5], "range": [351.5, 36.5], "nice": false, "zero": false},
    "axis": {"title": ["IN 9", "(mV)"], "offset": -69, "labelOverlap": false,
     "values": [-2.4,-2.3,-2.2,-2.1,-2,-1.9,-1.8,-1.7,-1.6,-1.5,-1.4,-1.3,-1.2,-1.1,-1,-0.9,-0.8,-0.7,-0.6,-0.5,-0.4,-0.3,-0.2,-0.1,0,0.1,0.2,0.3,0.4,0.5,0.6,0.7,0.8,0.9,1,1.1,1.2,1.3,1.4,1.5,1.6,1.7,1.8,1.9,2,2.1,2.2,2.3,2.4],
     "labelExpr": "abs(datum.value*2 - round(datum.value*2)) < 0.001 ? toString(datum.value) : ''",
     "tickSize": {"condition": {"test": "abs(datum.value*2 - round(datum.value*2)) < 0.001", "value": 4}, "value": 2},
     "labelPadding": 2, "titleX": -8, "titleAngle": -90, "titleBaseline": "bottom", "titleAlign": "center"}}
  }
 },
 {
  "width": 1179, "height": 39,
  "data": {"values": [{"label": "(B) Spontaneous seizure day 45 post-TBI"}]},
  "layer": [
   {"mark": {"type": "rect", "fill": null, "fillOpacity": 0, "stroke": "#000", "strokeWidth": 2}},
   {"mark": {"type": "text", "x": 62, "y": 29, "align": "left", "baseline": "alphabetic", "font": "Open Sans", "fontSize": 24.2, "color": "#000"},
    "encoding": {"text": {"field": "label"}}}
  ]
 },
 {
  "width": 1179, "height": 406,
  "resolve": {"axis": {"x": "independent", "y": "independent"}},
  "layer": [
   {
    "data": {"name": "b"},
    "mark": {"type": "line", "clip": true, "color": "#000", "strokeWidth": 1.55},
    "encoding": {
     "x": {"field": "t", "type": "quantitative",
      "scale": {"domain": [2501.38, 2552.02], "range": [75, 1179], "nice": false, "zero": false},
      "axis": {"title": "Time (s)", "offset": -17.2, "values": [2502,2504,2506,2508,2510,2512,2514,2516,2518,2520,2522,2524,2526,2528,2530,2532,2534,2536,2538,2540,2542,2544,2546,2548,2550,2552],
       "format": "d", "labelOverlap": false,
       "labelExpr": "datum.value % 10 === 0 ? datum.label : ''", "tickSize": 3, "labelPadding": 1, "titlePadding": -2, "titleFontSize": 6.5}},
     "y": {"field": "v", "type": "quantitative",
      "scale": {"domain": [-4.8, 5.8], "range": [388.8, 7.2], "nice": false, "zero": false},
      "axis": {"title": ["IN 13", "(mV)"], "offset": -75, "labelOverlap": false,
       "values": [-4.6,-4.4,-4.2,-4,-3.8,-3.6,-3.4,-3.2,-3,-2.8,-2.6,-2.4,-2.2,-2,-1.8,-1.6,-1.4,-1.2,-1,-0.8,-0.6,-0.4,-0.2,0,0.2,0.4,0.6,0.8,1,1.2,1.4,1.6,1.8,2,2.2,2.4,2.6,2.8,3,3.2,3.4,3.6,3.8,4,4.2,4.4,4.6,4.8,5,5.2,5.4,5.6],
       "labelExpr": "abs(datum.value - round(datum.value)) < 0.001 ? toString(datum.value) : ''",
       "tickSize": {"condition": {"test": "abs(datum.value - round(datum.value)) < 0.001", "value": 4}, "value": 2},
       "labelPadding": 2, "titleX": -48, "titleAngle": -90, "titleBaseline": "bottom", "titleAlign": "center"}}
    }
   },
   {
    "data": {"values": [{"t": 2505.0795}]},
    "mark": {"type": "rule", "color": "#1f9c9c", "strokeWidth": 1.2},
    "encoding": {"x": {"field": "t", "type": "quantitative", "axis": null}, "y": {"datum": 5.85, "type": "quantitative", "axis": null}, "y2": {"datum": -4.8}}
   },
   {
    "data": {"values": [{"t": 2505.0795}]},
    "mark": {"type": "rule", "color": "#1f8c8c", "strokeWidth": 1},
    "encoding": {"x": {"datum": 2502.36, "type": "quantitative", "axis": null}, "x2": {"datum": 2507.85}, "y": {"datum": 0, "type": "quantitative", "axis": null}}
   },
   {
    "data": {"values": [{"t": 2505.0795}]},
    "mark": {"type": "point", "filled": true, "color": "#1d4f4f", "size": 10, "opacity": 1},
    "encoding": {"x": {"field": "t", "type": "quantitative", "axis": null}, "y": {"datum": 5.85, "type": "quantitative", "axis": null}}
   },
   {
    "data": {"values": [{"t": 2505.0795}]},
    "mark": {"type": "rect", "fill": "white", "stroke": "#333", "strokeWidth": 0.8},
    "encoding": {"x": {"datum": 2503.54, "type": "quantitative", "axis": null}, "x2": {"datum": 2506.24}, "y": {"datum": 5.17, "type": "quantitative", "axis": null}, "y2": {"datum": 4.66}}
   },
   {
    "data": {"values": [{"label": "2505.0795 s\n0.0311 mV"}]},
    "mark": {"type": "text", "font": "Liberation Sans", "fontSize": 7.5, "color": "#333", "lineBreak": "\n", "baseline": "middle", "align": "center", "lineHeight": 8.5},
    "encoding": {"x": {"datum": 2504.89, "type": "quantitative", "axis": null}, "y": {"datum": 4.96, "type": "quantitative", "axis": null}, "text": {"field": "label"}}
   }
  ]
 }
]
}
